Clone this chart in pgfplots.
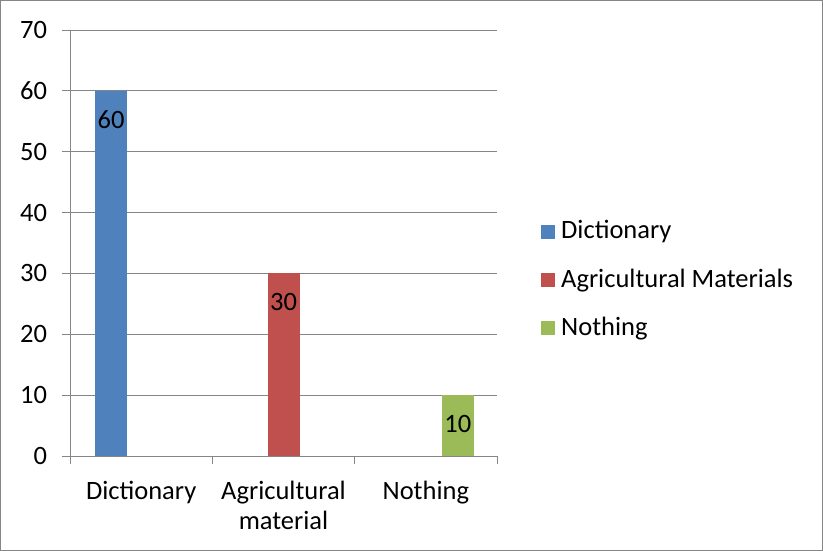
\documentclass[border=0pt]{standalone}
\usepackage{fontspec}
\setmainfont{Carlito}
\usepackage{pgfplots}
\pgfplotsset{compat=1.18}
\definecolor{cblue}{HTML}{4F81BD}
\definecolor{cred}{HTML}{C0504D}
\definecolor{cgreen}{HTML}{9BBB59}
\definecolor{cgrid}{HTML}{868686}
\begin{document}
\fontsize{26.5bp}{30bp}\selectfont
\begin{tikzpicture}
\useasboundingbox (0,0) rectangle (823bp,551bp);
\draw[cgrid, line width=1bp] (0.5bp,0.5bp) rectangle (822.5bp,550.5bp);
\begin{axis}[
  at={(70bp,95bp)}, anchor=south west,
  scale only axis, width=427bp, height=426bp,
  xmin=-0.5, xmax=2.5, ymin=0, ymax=70,
  ytick={0,10,...,70},
  axis x line*=bottom, axis y line*=left,
  axis line style={cgrid, line width=1bp, -},
  tick style={cgrid, line width=1bp},
  tick align=outside, major tick length=8bp,
  ymajorgrids, grid style={cgrid, line width=1bp},
  xtick={-0.5,0.5,1.5,2.5}, xticklabels={},
  extra x ticks={0,1,2},
  extra x tick labels={Dictionary, Agricultural\\material, Nothing},
  extra x tick style={major tick length=0pt, grid=none,
     tick label style={align=center, yshift=-16bp}},
  yticklabel style={xshift=-6bp},
  /pgf/number format/assume math mode=true,
  ybar, bar width=32bp,
  nodes near coords,
  every node near coord/.append style={anchor=center, yshift=-29bp, text=black},
  legend style={at={(1.103,0.413)}, anchor=west, draw=none, fill=none,
     row sep=22bp, inner sep=0pt, cells={anchor=west}},
  legend image code/.code={\fill[#1] (0bp,-7bp) rectangle (14bp,7bp); \path (18bp,0bp);},
]
\addplot[fill=cblue, draw=none, bar shift=-30bp] coordinates {(0,60)};
\addlegendentry{Dictionary}
\addplot[fill=cred, draw=none, bar shift=0bp] coordinates {(1,30)};
\addlegendentry{Agricultural Materials}
\addplot[fill=cgreen, draw=none, bar shift=32bp] coordinates {(2,10)};
\addlegendentry{Nothing}
\end{axis}
\end{tikzpicture}
\end{document}
